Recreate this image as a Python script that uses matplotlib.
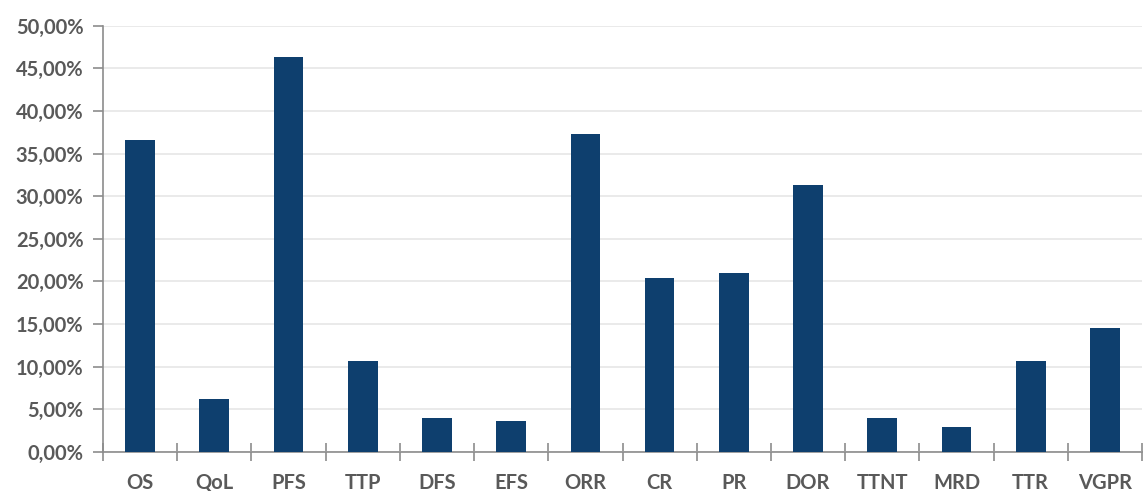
import numpy as np
import matplotlib.pyplot as plt
from matplotlib.ticker import FuncFormatter, FixedLocator

categories = ["OS", "QoL", "PFS", "TTP", "DFS", "EFS", "ORR", "CR", "PR",
              "DOR", "TTNT", "MRD", "TTR", "VGPR"]
values = [36.6, 6.2, 46.3, 10.7, 3.9, 3.6, 37.3, 20.4, 21.0,
          31.3, 3.9, 2.9, 10.7, 14.55]

bar_color = "#0e3f6e"
text_color = "#595959"
axis_color = "#8c8c8c"

plt.rcParams['font.family'] = ['Lato', 'DejaVu Sans']

fig = plt.figure(figsize=(11.43, 4.91), dpi=100)
ax = fig.add_axes([103 / 1143, 1 - 451.7 / 491, (1142 - 103) / 1143, (451.7 - 25.7) / 491])

x = np.arange(len(categories))
ax.bar(x, values, width=0.4, color=bar_color, zorder=3)

ax.set_xlim(-0.5, len(categories) - 0.5)
ax.set_ylim(0, 50)
ax.set_yticks(np.arange(0, 50.1, 5))
ax.yaxis.set_major_formatter(FuncFormatter(lambda v, p: f"{v:.2f}%".replace(".", ",")))
ax.grid(axis="y", color="#e6e6e6", linewidth=1.2, zorder=0)

ax.set_xticks(x)
ax.set_xticklabels(categories)
ax.xaxis.set_minor_locator(FixedLocator(np.arange(-0.5, len(categories), 1.0)))
ax.tick_params(axis="x", which="major", length=0, pad=15)
ax.tick_params(axis="x", which="minor", length=13, direction="inout", color=axis_color, width=1.2)
ax.tick_params(axis="y", length=7, color=axis_color, width=1.2, pad=7)

for lbl in ax.get_xticklabels() + ax.get_yticklabels():
    lbl.set_fontsize(14.5)
    lbl.set_fontweight("bold")
    lbl.set_color(text_color)

for side in ["top", "right"]:
    ax.spines[side].set_visible(False)
for side in ["left", "bottom"]:
    ax.spines[side].set_color(axis_color)
    ax.spines[side].set_linewidth(1.2)

fig.savefig("out.png", dpi=100)
